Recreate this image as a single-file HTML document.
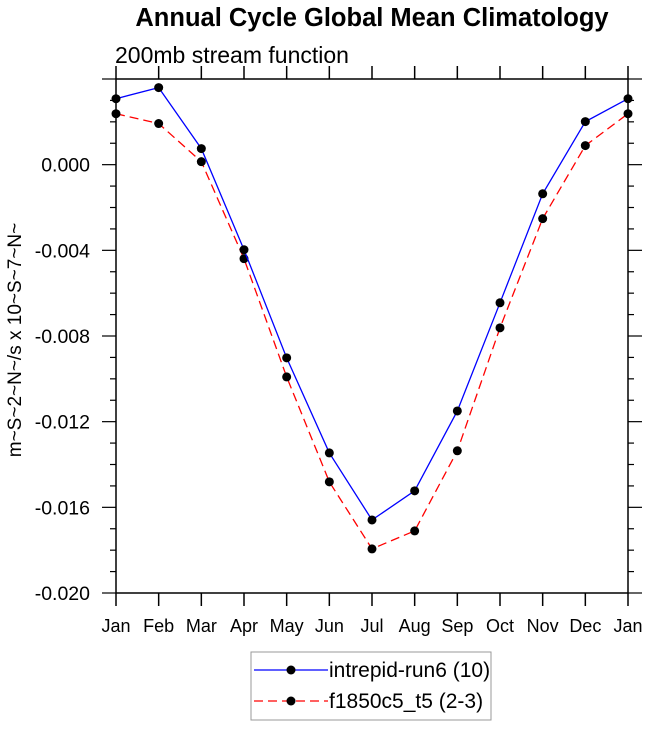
<!DOCTYPE html>
<html><head><meta charset="utf-8"><style>
body{margin:0;background:#fff;}
svg text{font-family:"Liberation Sans",sans-serif;}
</style></head><body>
<svg id="chart" width="647" height="726" xmlns="http://www.w3.org/2000/svg">
<text x="372" y="26" font-size="25.5" font-weight="bold" text-anchor="middle">Annual Cycle Global Mean Climatology</text>
<text x="115" y="63" font-size="23">200mb stream function</text>
<text transform="translate(21,340) rotate(-90)" font-size="19" text-anchor="middle">m~S~2~N~/s x 10~S~7~N~</text>
<g id="axes"></g>
<g id="series"></g>
<g>
<rect x="251" y="652" width="240" height="68" fill="#fff" stroke="#999" stroke-width="1"/>
<line x1="254" y1="670" x2="328" y2="670" stroke="#0000ff" stroke-width="1.2"/>
<circle cx="291" cy="670" r="4.5" fill="#000"/>
<text x="329" y="677" font-size="21">intrepid-run6 (10)</text>
<line x1="254" y1="701" x2="328" y2="701" stroke="#ff0000" stroke-width="1.2" stroke-dasharray="9,5"/>
<circle cx="291" cy="701" r="4.5" fill="#000"/>
<text x="329" y="708" font-size="21">f1850c5_t5 (2-3)</text>
</g>
</svg>
<script>
const months=["Jan","Feb","Mar","Apr","May","Jun","Jul","Aug","Sep","Oct","Nov","Dec","Jan"];
const intrepid=[0.00308,0.0036,0.00075,-0.00397,-0.00902,-0.01346,-0.01659,-0.01523,-0.0115,-0.00645,-0.00136,0.00201,0.00308];
const f1850=[0.00238,0.00192,0.00014,-0.00439,-0.00991,-0.01481,-0.01794,-0.0171,-0.01336,-0.00762,-0.00252,0.00089,0.00238];
const yTicks=[0.000,-0.004,-0.008,-0.012,-0.016,-0.020];
const yTickLabels=["0.000","-0.004","-0.008","-0.012","-0.016","-0.020"];
const NS="http://www.w3.org/2000/svg";
const L=116,R=628,T=79,B=593,yMin=-0.020,yMax=0.004;
const xs=i=>L+(R-L)*i/(months.length-1);
const ys=v=>B-(v-yMin)/(yMax-yMin)*(B-T);
function mk(tag,attrs,parent){const e=document.createElementNS(NS,tag);for(const k in attrs)e.setAttribute(k,attrs[k]);parent.appendChild(e);return e;}
const ax=document.getElementById('axes');
let fr=mk('rect',{x:L,y:T,width:R-L,height:B-T,fill:'none',stroke:'#000','stroke-width':1.5},ax);


for(let i=0;i<months.length;i++){
  const x=xs(i);
  mk('line',{x1:x,y1:B,x2:x,y2:B+13,stroke:'#000','stroke-width':1.5},ax);
  mk('line',{x1:x,y1:T,x2:x,y2:T-13,stroke:'#000','stroke-width':1.5},ax);
  const t=mk('text',{x:x,y:B+39,'font-size':18,'text-anchor':'middle'},ax);
  t.textContent=months[i];
  
  
}
for(let k=0;k<=24;k++){
  const v=yMin+k*0.001, y=ys(v), major=(k%4===0);
  const len=major?14:6;
  mk('line',{x1:L,y1:y,x2:L-len,y2:y,stroke:'#000','stroke-width':1.2},ax);
  mk('line',{x1:R,y1:y,x2:R+len,y2:y,stroke:'#000','stroke-width':1.2},ax);
}
yTicks.forEach((v,i)=>{
  const t=mk('text',{x:L-26,y:ys(v)+7,'font-size':19.5,'text-anchor':'end'},ax);
  t.textContent=yTickLabels[i];
  
  
});
const sg=document.getElementById('series');
function series(data,color,dash,name){
  const p=mk('polyline',{points:data.map((v,i)=>xs(i)+','+ys(v)).join(' '),fill:'none',stroke:color,'stroke-width':1.3,'stroke-dasharray':dash},sg);
  
  
  data.forEach((v,i)=>{
    const c=mk('circle',{cx:xs(i),cy:ys(v),r:4.5,fill:'#000'},sg);
    
    
  });
}
series(f1850,'#ff0000','9,5','f1850');
series(intrepid,'#0000ff','none','intrepid');
</script>
</body></html>
